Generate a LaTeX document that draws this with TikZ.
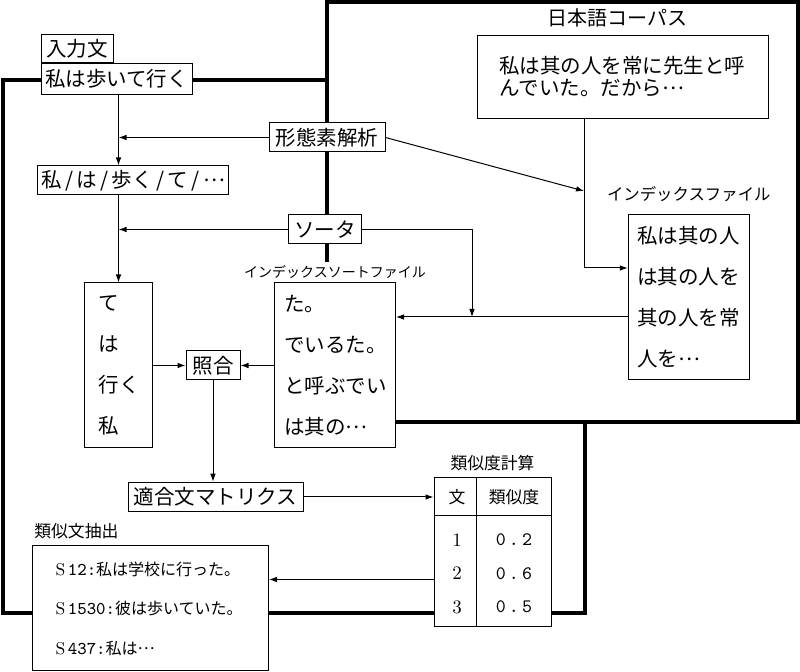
\documentclass[tikz,border=0pt]{standalone}
\usepackage{fontspec}
\newfontfamily\jp{Noto Sans CJK JP}
\usetikzlibrary{arrows.meta,positioning}
\newcommand\sentid[1]{{\rmfamily\fontsize{8.5}{10}\selectfont S}\,%
  {\ttfamily\fontsize{9}{10}\selectfont #1:}}
\newcommand\jdots{\raisebox{0.3em}{…}}
\tikzset{box/.style={draw, fill=white, line width=0.5pt, inner sep=2pt,
         minimum height=14.5pt, font=\jp\fontsize{10.25}{12}\selectfont},
         listbox/.style={box, align=left, minimum height=82.5pt,
         font=\jp\fontsize{10.25}{20.5}\selectfont},
         tag/.style={inner sep=1pt, font=\jp\fontsize{#1}{#1}\selectfont},
         tag/.default={8.4},
         region/.style={line width=2pt},
         arr/.style={line width=0.5pt, -{Latex[length=4pt,width=2.8pt]}}}

\begin{document}
\begin{tikzpicture}[x=0.5pt, y=-0.5pt]
  \useasboundingbox (0,0) rectangle (800,672);
  % the two regions
  \draw[region] (3.5,80) rectangle (585,613);
  \draw[region, fill=white] (327,2) rectangle (797.5,422);

  % input sentence side
  \node[box, minimum width=75.5pt, minimum height=15.5pt] (insent) at (116.5,79) {私は歩いて行く};
  \node[box, minimum width=36pt, minimum height=14pt, anchor=south west] (inlabel)
    at (insent.north west) {入力文};
  \node[box, minimum width=58pt] (keitai) at (327,137.5) {形態素解析};
  \node[box, minimum width=92pt] (morphs) at (133,180.5) {私\,/\,は\,/\,歩く\,/\,て\,/\,\jdots};
  \node[box, minimum width=36.5pt] (sorter) at (325,229.5) {ソータ};
  \node[listbox, text width=20pt, inner xsep=7pt] (words) at (118.5,365.5)
    {て\\は\\行く\\私};
  \node[box, minimum width=27pt] (match) at (213,365.5) {照合};
  \node[listbox, text width=50.5pt, inner xsep=5pt] (sortfile) at (335,365.5)
    {た。\\でいるた。\\と呼ぶでい\\は其の\jdots};
  \node[tag=7, fill=white, minimum height=10pt, anchor=south] (sortlabel)
    at (sortfile.north) {インデックスソートファイル};

  % corpus side
  \node[box, align=left, text width=124pt, inner xsep=10.75pt, minimum height=41.5pt,
    font=\jp\fontsize{10.25}{11.25}\selectfont] (corpus) at (623.3,76.7)
    {私は其の人を常に先生と呼\\んでいた。だから\jdots};
  \node[tag=10, above=2.5pt of corpus, xshift=-2.75pt] (corplabel) {日本語コーパス};
  \node[listbox, text width=51.5pt, inner xsep=4.5pt] (idxfile) at (688.8,297.5)
    {私は其の人\\は其の人を\\其の人を常\\人を\jdots};
  \node[tag=8.2, above=5pt of idxfile] (idxlabel) {インデックスファイル};

  % matching and similarity
  \node[box, minimum width=87.5pt, minimum height=14.75pt] (fitmat) at (215.5,497)
    {適合文マトリクス};
  \node[box, minimum width=58.5pt, minimum height=74.5pt] (simtab) at (492.5,552.5) {};
  \node[tag, above=2pt of simtab] (simlabel) {類似度計算};
  \draw[line width=0.5pt] ([yshift=-19pt]simtab.north west) -- ([yshift=-19pt]simtab.north east)
    ([xshift=21.5pt]simtab.north west) -- ([xshift=21.5pt]simtab.south west);
  \node[tag] (hsent) at (457,497) {文};
  \node[tag] (hsim) at (514,497) {類似度};
  \foreach \sno/\sval [count=\i] in {1/2,2/6,3/5} {
    \node[inner sep=0pt, font=\rmfamily\fontsize{9.5}{10}\selectfont] (sno\i)
      at (457,{506.5+33.5*\i}) {\sno};
    \node[inner sep=0pt, font=\ttfamily\fontsize{9.5}{10}\selectfont] (sval\i)
      at (514,{506.5+33.5*\i}) {0\,.\,\sval};
  }
  \node[box, align=left, text width=95pt, inner xsep=11.5pt, minimum height=62.5pt,
    font=\jp\fontsize{8}{19.75}\selectfont] (extract) at (150.5,608.5)
    {\sentid{12}私は学校に行った。\\\sentid{1530}彼は歩いていた。\\\sentid{437}私は\jdots};
  \node[tag, anchor=south west] (extlabel) at ([yshift=2pt]extract.north west) {類似文抽出};

  % connectors
  \coordinate (cdrop) at (584,268);
  \coordinate (ixin) at (584,191);
  \coordinate (sjoin) at (472,317);
  \draw[arr] (insent.south -| words.north) -- (morphs.north -| words.north);
  \draw[arr] (keitai.west) -- (keitai.west -| words.north);
  \draw[arr] (morphs.south -| words.north) -- (words.north);
  \draw[arr] (sorter.west) -- (sorter.west -| words.north);
  \draw[arr] (keitai.east) -- (ixin);
  \draw[arr] (corpus.south -| cdrop) -- (cdrop) -- (cdrop -| idxfile.west);
  \draw[arr] (idxfile.west |- sjoin) -- (sortfile.east |- sjoin);
  \draw[arr] (sorter.east) -| (sjoin);
  \draw[arr] (words.east) -- (match.west);
  \draw[arr] (sortfile.west) -- (match.east);
  \draw[arr] (match.south) -- (match.south |- fitmat.north);
  \draw[arr] (fitmat.east) -- (fitmat.east -| simtab.west);
  \draw[arr] ([yshift=-13.5pt]simtab.west) -- ([yshift=-13.5pt]simtab.west -| extract.east);
\end{tikzpicture}
\end{document}
